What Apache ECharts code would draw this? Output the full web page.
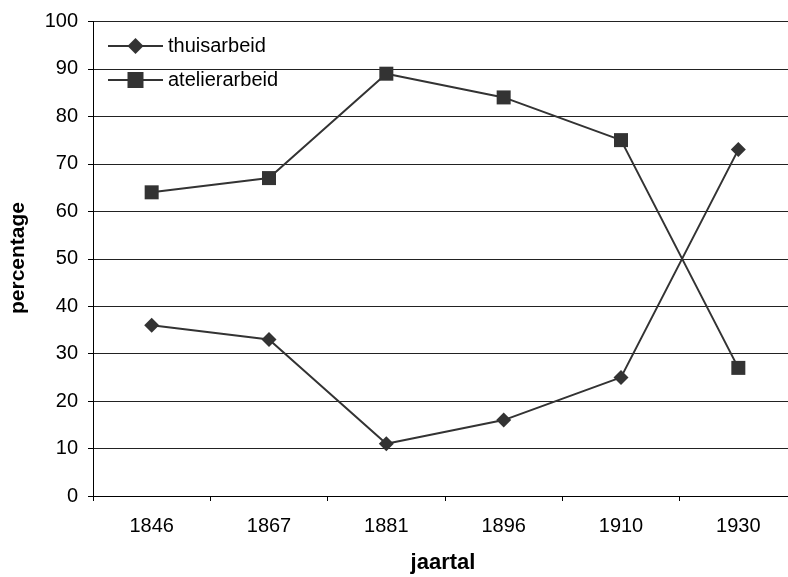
<!DOCTYPE html>
<html><head><meta charset="utf-8">
<script src="https://cdn.jsdelivr.net/npm/echarts@6/dist/echarts.min.js"></script>
<style>html,body{margin:0;padding:0;background:#fff}#c{width:788px;height:577px}</style>
</head><body><div id="c"></div>
<script>
const categories = ['1846','1867','1881','1896','1910','1930'];
const thuisarbeid = [36, 33, 11, 16, 25, 73];
const atelierarbeid = [64, 67, 89, 84, 75, 27];

const chart = echarts.init(document.getElementById('c'), null, {renderer:'canvas'});
const font = 'Liberation Sans, Arial, sans-serif';
chart.setOption({
  animation:false,
  backgroundColor:'#fff',
  grid:{left:93, width:704, top:21.5, height:474.5, containLabel:false, outerBoundsMode:'none'},
  legend:{
    left:107, top:36, padding:0, orient:'vertical', itemWidth:55, itemHeight:20, itemGap:14,
    textStyle:{fontFamily:font, fontSize:20, color:'#000'},
    data:['thuisarbeid','atelierarbeid']
  },
  xAxis:{
    type:'category', data:categories, boundaryGap:true,
    axisLine:{lineStyle:{color:'#000', width:1}},
    axisTick:{show:true, length:5, lineStyle:{color:'#000'}},
    axisLabel:{fontFamily:font, fontSize:20, color:'#000', margin:20},
    splitLine:{show:false}
  },
  yAxis:{
    type:'value', min:0, max:100, interval:10,
    axisLine:{show:true, lineStyle:{color:'#000', width:1}},
    axisTick:{show:true, length:5, lineStyle:{color:'#000'}},
    axisLabel:{fontFamily:font, fontSize:20, color:'#000', margin:15},
    splitLine:{show:true, lineStyle:{color:'#222', width:1}}
  },
  graphic:[
    {type:'text', x:18, y:258, rotation:Math.PI/2, style:{text:'percentage', font:'bold 21px '+font, fill:'#000', textAlign:'center', textVerticalAlign:'middle'}},
    {type:'text', x:443, y:563, style:{text:'jaartal', font:'bold 22px '+font, fill:'#000', textAlign:'center', textVerticalAlign:'middle'}}
  ],
  series:[
    {name:'thuisarbeid', type:'line', data:thuisarbeid, symbol:'diamond', symbolSize:15,
     lineStyle:{color:'#333', width:2}, itemStyle:{color:'#333'}},
    {name:'atelierarbeid', type:'line', data:atelierarbeid, symbol:'rect', symbolSize:14,
     lineStyle:{color:'#333', width:2}, itemStyle:{color:'#333'}}
  ]
});
</script></body></html>
